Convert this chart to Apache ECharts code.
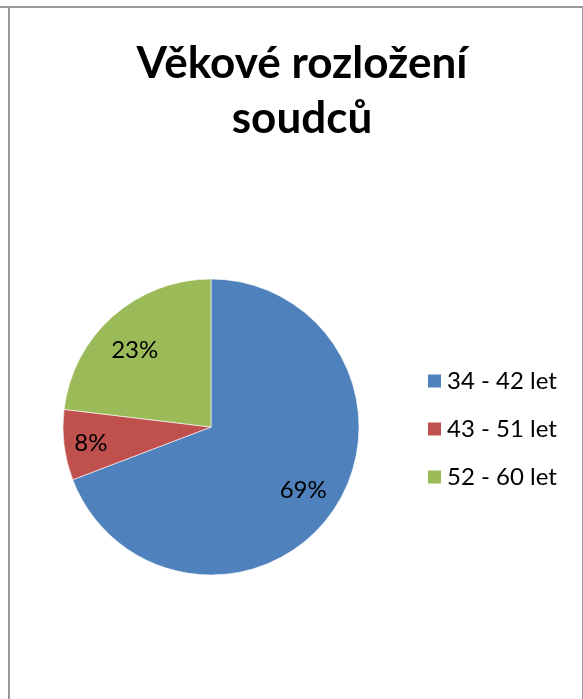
<!DOCTYPE html>
<html>
<head>
<meta charset="utf-8">
<script src="https://cdn.jsdelivr.net/npm/echarts@6/dist/echarts.min.js"></script>
<style>
  html, body { margin: 0; padding: 0; background: #fff; }
  #topline { position: absolute; left: 0; top: 6px; width: 583px; height: 2px; background: #999; }
  #frame { position: absolute; left: 8px; top: 6px; width: 572px; height: 720px; border: 2px solid #999; border-bottom: none; }
  #chart { position: absolute; left: 0; top: 0; width: 583px; height: 699px; }
</style>
</head>
<body>
<div id="topline"></div>
<div id="frame"></div>
<div id="chart"></div>
<script>
const titleText = 'Věkové rozložení\nsoudců'
const categories = ['34 - 42 let', '43 - 51 let', '52 - 60 let']
const shares = [69.2, 7.7, 23.1]
const colors = ['#4F81BD', '#C0504D', '#9BBB59']

let myChart = echarts.init(document.getElementById('chart'))

let pieData = categories.map((name, i) => ({ name: name, value: shares[i] }))
// posun popisků, aby seděly jako v Excelu
let labelOffsets = [[0, 0], [-9, 3], [-2, 7]]

myChart.setOption({
  animation: false,
  color: colors,
  title: {
    text: titleText,
    left: 297,
    textAlign: 'center',
    top: 31,
    textStyle: {
      fontFamily: 'Lato',
      fontWeight: 'bold',
      fontSize: 44,
      lineHeight: 55,
      color: '#000'
    }
  },
  legend: {
    orient: 'vertical',
    left: 426,
    top: 369,
    padding: 0,
    icon: 'rect',
    itemWidth: 15,
    itemHeight: 15,
    itemGap: 24,
    textStyle: {
      fontFamily: 'Lato',
      fontSize: 24,
      lineHeight: 24,
      color: '#000'
    },
    data: categories
  },
  series: [{
    type: 'pie',
    center: [211, 427],
    radius: [0, 148],
    startAngle: 90,
    clockwise: true,
    label: { show: false },
    labelLine: { show: false },
    itemStyle: { borderColor: '#fff', borderWidth: 0.6 },
    emphasis: { disabled: true },
    data: pieData
  }, {
    // průhledná vrstva jen pro popisky procent
    type: 'pie',
    center: [211, 427],
    radius: [70, 148],
    startAngle: 90,
    clockwise: true,
    silent: true,
    itemStyle: { color: 'rgba(0,0,0,0)' },
    label: {
      show: true,
      position: 'inside',
      fontFamily: 'Lato',
      fontSize: 24,
      color: '#000',
      formatter (p) {
        return Math.round(p.percent) + '%'
      }
    },
    labelLine: { show: false },
    emphasis: { disabled: true },
    data: pieData.map((d, i) => Object.assign({}, d, { label: { offset: labelOffsets[i] } }))
  }]
})
</script>
</body>
</html>
